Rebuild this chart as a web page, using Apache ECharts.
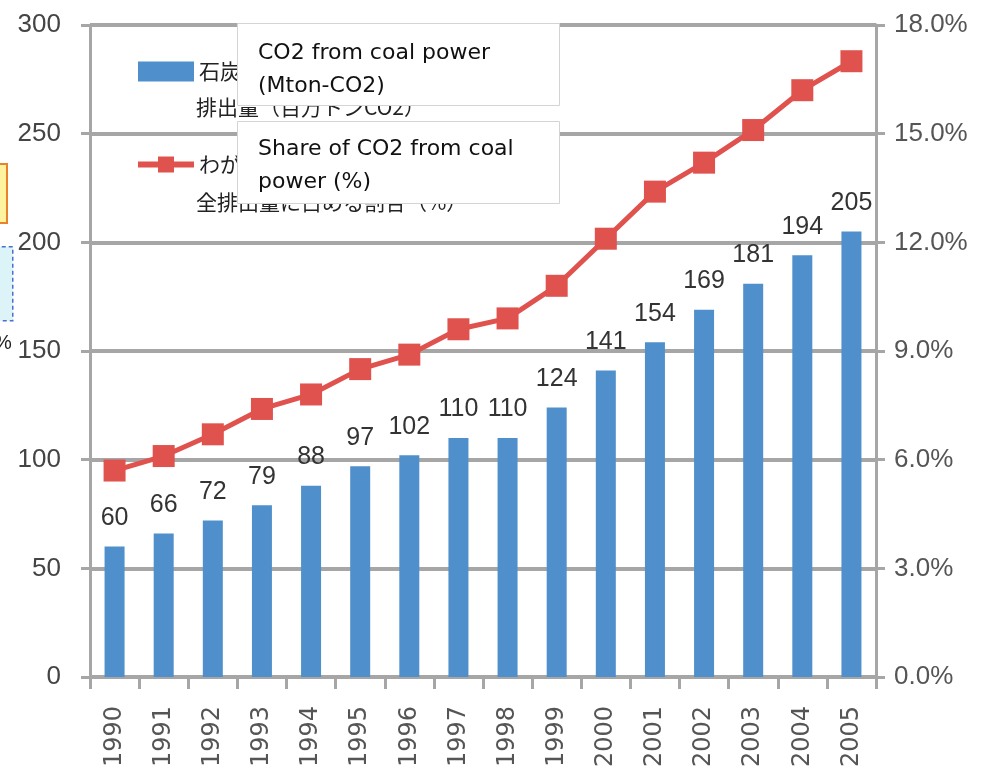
<!DOCTYPE html>
<html>
<head>
<meta charset="utf-8">
<script src="https://cdn.jsdelivr.net/npm/echarts@6/dist/echarts.min.js"></script>
<style>
  html, body { margin: 0; padding: 0; background: #fff; }
  #chart { width: 989px; height: 779px; }
</style>
</head>
<body>
<div id="chart"></div>
<script>
// years on the x axis
var years = ['1990', '1991', '1992', '1993', '1994', '1995', '1996', '1997',
             '1998', '1999', '2000', '2001', '2002', '2003', '2004', '2005'];
// CO2 from coal power (Mton-CO2)
var coalCO2 = [60, 66, 72, 79, 88, 97, 102, 110, 110, 124, 141, 154, 169, 181, 194, 205];
// share of CO2 from coal power (%)
var coalShare = [5.7, 6.1, 6.7, 7.4, 7.8, 8.5, 8.9, 9.6, 9.9, 10.8, 12.1, 13.4, 14.2, 15.1, 16.2, 17.0];

var barName = '石炭火力発電からのCO2';
var lineName = 'わが国のCO2';

var gridColor = '#a6a6a6';
var numFont = "'Liberation Sans', sans-serif";
var jpFont = "'Noto Sans CJK JP', sans-serif";

var chart = echarts.init(document.getElementById('chart'));
chart.setOption({
    animation: false,
    grid: { left: 90, right: 113, top: 25, bottom: 102, containLabel: false },
    legend: {
        orient: 'vertical',
        left: 130,
        top: 56,
        itemGap: 72,
        itemWidth: 56,
        itemHeight: 20,
        lineStyle: { width: 6 },
        data: [{ name: barName, icon: 'rect' }, { name: lineName }],
        textStyle: { fontFamily: jpFont, fontSize: 21, color: '#222' }
    },
    xAxis: {
        type: 'category',
        data: years,
        axisLine: { lineStyle: { color: gridColor, width: 3 } },
        axisTick: { show: true, length: 12, lineStyle: { color: gridColor, width: 3 } },
        axisLabel: {
            rotate: 90,
            margin: 29,
            fontFamily: "'DejaVu Sans', sans-serif",
            fontSize: 24,
            color: '#555'
        }
    },
    yAxis: [{
        type: 'value',
        min: 0,
        max: 300,
        interval: 50,
        axisLine: { show: true, lineStyle: { color: gridColor, width: 3 } },
        axisTick: { show: true, length: 9, lineStyle: { color: gridColor, width: 3 } },
        splitLine: { lineStyle: { color: gridColor, width: 4 } },
        axisLabel: { margin: 29, fontFamily: numFont, fontSize: 26, color: '#444' }
    }, {
        type: 'value',
        min: 0,
        max: 18,
        interval: 3,
        axisLine: { show: true, lineStyle: { color: gridColor, width: 3 } },
        axisTick: { show: true, length: 9, lineStyle: { color: gridColor, width: 3 } },
        splitLine: { show: false },
        axisLabel: {
            margin: 18,
            fontFamily: numFont,
            fontSize: 26,
            color: '#555',
            formatter: function (v) { return v.toFixed(1) + '%'; }
        }
    }],
    series: [{
        name: barName,
        type: 'bar',
        data: coalCO2,
        barWidth: 20,
        itemStyle: { color: '#4f8fcc' },
        label: {
            show: true,
            position: 'top',
            distance: 16,
            fontFamily: numFont,
            fontSize: 25,
            color: '#333'
        }
    }, {
        name: lineName,
        type: 'line',
        yAxisIndex: 1,
        data: coalShare,
        symbol: 'rect',
        symbolSize: 22,
        z: 5,
        lineStyle: { color: '#e0524d', width: 5 },
        itemStyle: { color: '#e0524d' }
    }],
    graphic: [
        // second lines of the Japanese legend
        { type: 'text', left: 196, top: 97, z: 3,
          style: { text: '排出量（百万トンCO2）', font: "21px " + jpFont, fill: '#222' } },
        { type: 'text', left: 196, top: 192, z: 3,
          style: { text: '全排出量に占める割合（%）', font: "21px " + jpFont, fill: '#222' } },
        // fragments cut off at the left edge
        { type: 'rect', left: -6, top: 163, z: 50,
          shape: { width: 12, height: 59 },
          style: { fill: '#fff3a0', stroke: '#e8832a', lineWidth: 2 } },
        { type: 'rect', left: -6, top: 246, z: 50,
          shape: { width: 18, height: 74 },
          style: { fill: '#dcf3f8', stroke: '#4a6fd0', lineWidth: 1.5, lineDash: [4, 3] } },
        { type: 'text', left: -6, top: 333, z: 50,
          style: { text: '%', font: '20px sans-serif', fill: '#222' } },
        // English overlay boxes
        { type: 'rect', left: 237, top: 23, z: 100,
          shape: { width: 322, height: 82 },
          style: { fill: '#fff', stroke: '#d4d4d4', lineWidth: 1 } },
        { type: 'text', left: 258, top: 37, z: 101,
          style: { text: 'CO2 from coal power\n(Mton-CO2)', fill: '#111',
                   font: "22px 'DejaVu Sans', sans-serif", lineHeight: 33 } },
        { type: 'rect', left: 237, top: 121, z: 100,
          shape: { width: 322, height: 82 },
          style: { fill: '#fff', stroke: '#d4d4d4', lineWidth: 1 } },
        { type: 'text', left: 258, top: 133, z: 101,
          style: { text: 'Share of CO2 from coal\npower (%)', fill: '#111',
                   font: "22px 'DejaVu Sans', sans-serif", lineHeight: 33 } }
    ]
});
</script>
</body>
</html>
